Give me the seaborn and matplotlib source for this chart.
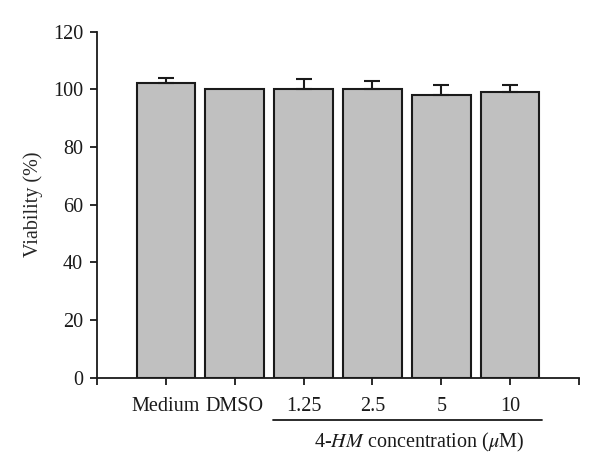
import matplotlib
matplotlib.use("Agg")
import matplotlib.pyplot as plt
import seaborn as sns
import numpy as np
import pandas as pd

categories = ["Medium", "DMSO", "1.25", "2.5", "5", "10"]
viability = [102.1, 100.0, 100.0, 100.0, 98.1, 99.0]
sem = [1.9, 0.0, 3.5, 2.8, 3.3, 2.6]
yticks = [0, 20, 40, 60, 80, 100, 120]

sns.set_theme(style="ticks")
plt.rcParams["font.family"] = ["Liberation Serif", "DejaVu Serif"]
plt.rcParams["mathtext.fontset"] = "stix"

FS = 14.5
fig = plt.figure(figsize=(6.0, 4.74), dpi=100)
ax = fig.add_axes([0.1617, 0.2032, 0.8033, 0.7299])

df = pd.DataFrame({"cat": categories, "val": viability})
sns.barplot(data=df, x="cat", y="val", order=categories, color="#c0c0c0",
            saturation=1, width=0.85, edgecolor="#1a1a1a", linewidth=1.5,
            errorbar=None, ax=ax)

xs = np.arange(len(categories))
mask = np.array(sem) > 0
ax.errorbar(xs[mask], np.array(viability)[mask],
            yerr=[np.zeros(mask.sum()), np.array(sem)[mask]],
            fmt="none", ecolor="#1a1a1a", elinewidth=1.5, capsize=5.5,
            capthick=1.5, zorder=1)

ax.set_xlim(-1, 6)
ax.set_ylim(0, 120)
ax.set_yticks(yticks)
ax.set_xticks(np.arange(-1, 7))
ax.set_xticklabels([""] + categories + [""])
ax.set_xlabel("")
ax.set_ylabel("Viability (%)", fontsize=FS, labelpad=7)
ax.tick_params(axis="both", labelsize=FS, direction="out", length=5,
               width=1.3, color="#1a1a1a", labelcolor="#1a1a1a")
ax.tick_params(axis="y", pad=5)
ax.tick_params(axis="x", pad=9)
for s in ["top", "right"]:
    ax.spines[s].set_visible(False)
for s in ["left", "bottom"]:
    ax.spines[s].set_linewidth(1.3)
    ax.spines[s].set_color("#1a1a1a")

# bracket line under the concentration labels
fig.add_artist(plt.Line2D([273 / 600, 542 / 600], [1 - 420 / 474, 1 - 420 / 474],
                          color="#1a1a1a", linewidth=1.3))
fig.text(419 / 600, 1 - 442 / 474, r"4-$\mathit{HM}$ concentration ($\mu$M)",
         ha="center", va="center", fontsize=FS, color="#1a1a1a")

fig.savefig("out.png", dpi=100)
